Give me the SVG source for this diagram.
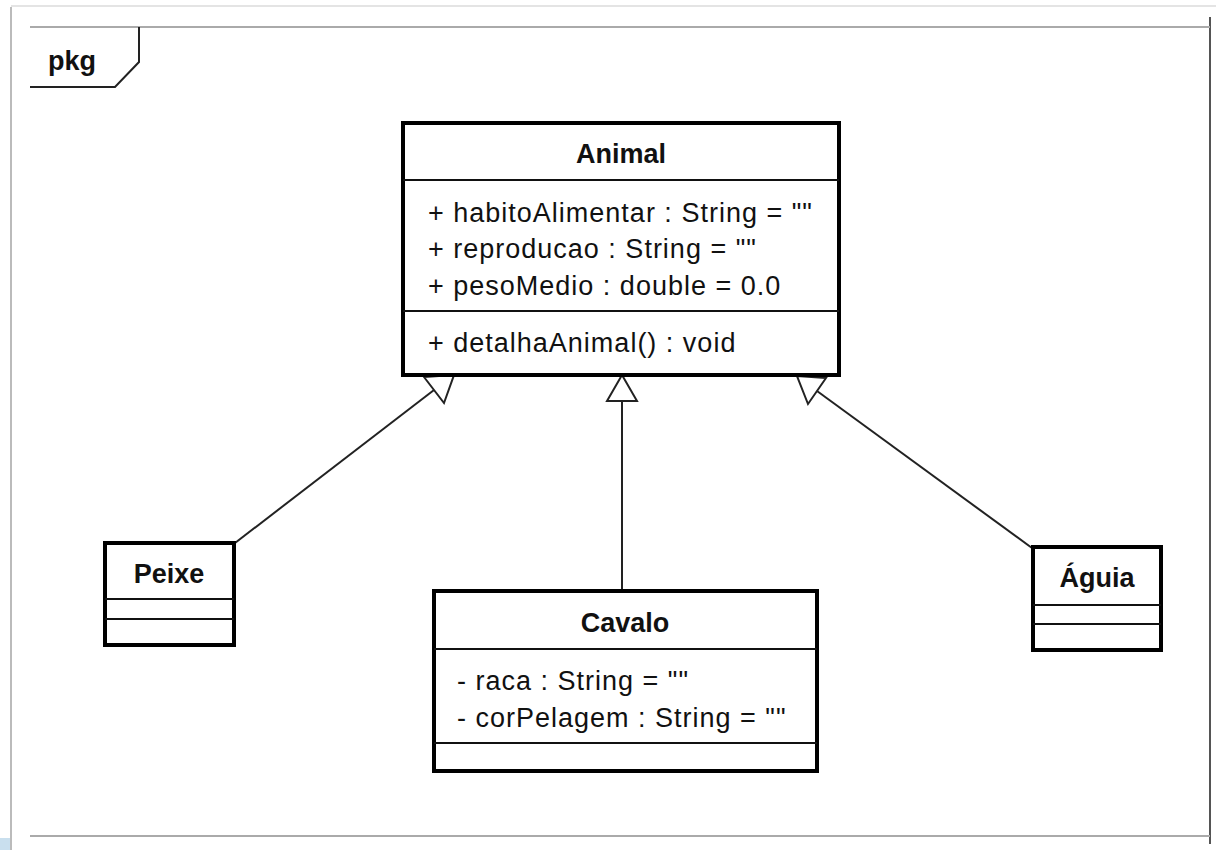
<svg xmlns="http://www.w3.org/2000/svg" width="1216" height="850" viewBox="0 0 1216 850">
<style>
.box{fill:#fff;stroke:#000;stroke-width:4}
.div{stroke:#111;stroke-width:2}
.title{font-family:"Liberation Sans",Arial,sans-serif;font-weight:bold;font-size:27px;fill:#111;text-anchor:middle}
.attr{font-family:"Liberation Sans",Arial,sans-serif;font-size:27px;fill:#111;letter-spacing:1px}
.conn{stroke:#222;stroke-width:2;fill:none}
.head{stroke:#222;stroke-width:2;fill:#fff;stroke-linejoin:miter}
.frame{stroke:#aaa;stroke-width:2;fill:none}
</style>
<rect x="0" y="0" width="1216" height="850" fill="#fff"/>
<g id="window">
<line x1="11" y1="6" x2="1216" y2="6" stroke="#e4e4e4" stroke-width="2"/>
<line x1="11" y1="7" x2="11" y2="850" stroke="#bbb" stroke-width="2"/>
<line x1="1210" y1="17" x2="1210" y2="844" stroke="#555" stroke-width="2"/>
<rect x="0" y="838" width="10" height="12" fill="#c9dfee"/>
</g>
<g id="pkg">
<line x1="30" y1="27" x2="1210" y2="27" class="frame"/>
<line x1="30" y1="836" x2="1210" y2="836" class="frame"/>
<polyline points="139,27 139,62 115,87 30,87" fill="none" stroke="#222" stroke-width="2"/>
<text x="48" y="70" font-family="Liberation Sans, Arial, sans-serif" font-weight="bold" font-size="27" fill="#111">pkg</text>
</g>
<g id="connectors">
<line class="conn" x1="235" y1="543" x2="434" y2="390"/>
<polygon class="head" points="424,377 444,403 454,375"/>
<line class="conn" x1="622" y1="401" x2="622" y2="590"/>
<polygon class="head" points="607,401 637,401 622,375"/>
<line class="conn" x1="1032" y1="548" x2="817" y2="391"/>
<polygon class="head" points="826,378 808,404 797,376"/>
</g>
<g id="Animal">
<rect class="box" x="403" y="123" width="436" height="252"/>
<text class="title" x="621" y="163">Animal</text>
<line class="div" x1="403" y1="180" x2="839" y2="180"/>
<text class="attr" x="428" y="222">+ habitoAlimentar : String = ""</text>
<text class="attr" x="428" y="258">+ reproducao : String = ""</text>
<text class="attr" x="428" y="295">+ pesoMedio : double = 0.0</text>
<line class="div" x1="403" y1="311" x2="839" y2="311"/>
<text class="attr" x="428" y="352">+ detalhaAnimal() : void</text>
</g>
<g id="Peixe">
<rect class="box" x="105" y="543" width="129" height="102"/>
<text class="title" x="169" y="583">Peixe</text>
<line class="div" x1="105" y1="599" x2="234" y2="599"/>
<line class="div" x1="105" y1="619" x2="234" y2="619"/>
</g>
<g id="Cavalo">
<rect class="box" x="434" y="591" width="383" height="180"/>
<text class="title" x="625" y="632">Cavalo</text>
<line class="div" x1="434" y1="649" x2="817" y2="649"/>
<text class="attr" x="457" y="690">- raca : String = ""</text>
<text class="attr" x="457" y="727">- corPelagem : String = ""</text>
<line class="div" x1="434" y1="743" x2="817" y2="743"/>
</g>
<g id="Aguia">
<rect class="box" x="1033" y="547" width="128" height="103"/>
<text class="title" x="1097" y="587">Águia</text>
<line class="div" x1="1033" y1="605" x2="1161" y2="605"/>
<line class="div" x1="1033" y1="624" x2="1161" y2="624"/>
</g>
</svg>
